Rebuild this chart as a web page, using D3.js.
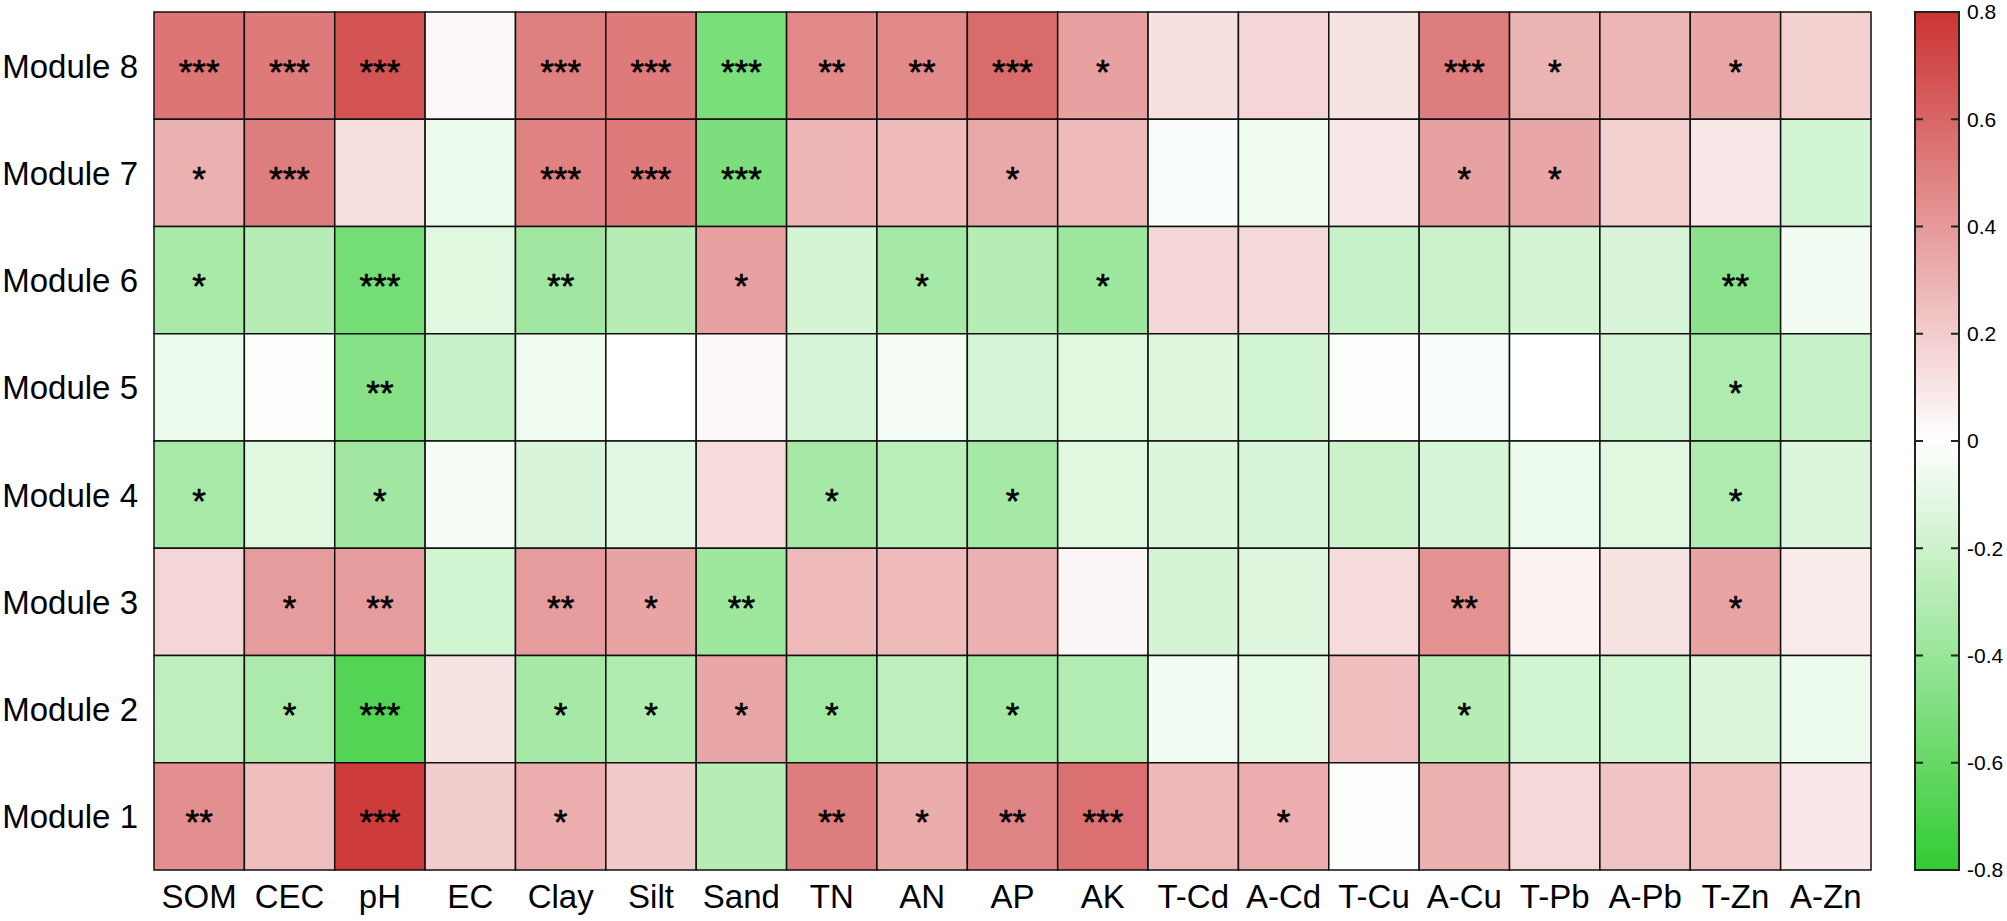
<!DOCTYPE html>
<html>
<head>
<meta charset="utf-8">
<script src="https://cdn.jsdelivr.net/npm/d3@7"></script>
<style>
  body { margin: 0; background: #fff; }
  text { font-family: "Liberation Sans", Arial, sans-serif; fill: #000; }
</style>
</head>
<body>
<div id="chart"></div>
<script>
const width = 2007,
  height = 921,
  margin = { top: 12, left: 154, right: 136, bottom: 51 };

// rows, top to bottom
const modules = ["Module 8", "Module 7", "Module 6", "Module 5", "Module 4", "Module 3", "Module 2", "Module 1"];
const variables = ["SOM", "CEC", "pH", "EC", "Clay", "Silt", "Sand", "TN", "AN", "AP", "AK",
  "T-Cd", "A-Cd", "T-Cu", "A-Cu", "T-Pb", "A-Pb", "T-Zn", "A-Zn"];

// correlation values, one array per module (same order as variables)
const module8 = [0.54, 0.52, 0.67, 0.03, 0.50, 0.52, -0.52, 0.46, 0.46, 0.58, 0.37, 0.12, 0.16, 0.11, 0.51, 0.30, 0.29, 0.35, 0.18];
const module7 = [0.31, 0.51, 0.13, -0.07, 0.49, 0.52, -0.51, 0.29, 0.27, 0.34, 0.27, -0.02, -0.06, 0.09, 0.37, 0.35, 0.18, 0.09, -0.18];
const module6 = [-0.34, -0.29, -0.54, -0.12, -0.37, -0.29, 0.37, -0.17, -0.35, -0.29, -0.38, 0.16, 0.15, -0.22, -0.20, -0.17, -0.15, -0.45, -0.05];
const module5 = [-0.08, -0.01, -0.47, -0.22, -0.06, 0.00, 0.03, -0.16, -0.04, -0.16, -0.12, -0.13, -0.18, -0.01, -0.02, 0.00, -0.16, -0.31, -0.22];
const module4 = [-0.34, -0.12, -0.37, -0.04, -0.15, -0.11, 0.14, -0.35, -0.27, -0.35, -0.12, -0.14, -0.16, -0.20, -0.16, -0.08, -0.12, -0.31, -0.14];
const module3 = [0.16, 0.39, 0.39, -0.18, 0.39, 0.36, -0.38, 0.27, 0.27, 0.31, 0.04, -0.17, -0.13, 0.14, 0.43, 0.05, 0.11, 0.36, 0.08];
const module2 = [-0.25, -0.33, -0.67, 0.11, -0.35, -0.31, 0.35, -0.36, -0.25, -0.36, -0.30, -0.05, -0.10, 0.25, -0.29, -0.18, -0.18, -0.14, -0.07];
const module1 = [0.44, 0.25, 0.77, 0.20, 0.32, 0.21, -0.29, 0.51, 0.33, 0.48, 0.56, 0.28, 0.32, -0.01, 0.31, 0.15, 0.23, 0.25, 0.10];

// significance marks
const sig8 = ["***", "***", "***", "", "***", "***", "***", "**", "**", "***", "*", "", "", "", "***", "*", "", "*", ""];
const sig7 = ["*", "***", "", "", "***", "***", "***", "", "", "*", "", "", "", "", "*", "*", "", "", ""];
const sig6 = ["*", "", "***", "", "**", "", "*", "", "*", "", "*", "", "", "", "", "", "", "**", ""];
const sig5 = ["", "", "**", "", "", "", "", "", "", "", "", "", "", "", "", "", "", "*", ""];
const sig4 = ["*", "", "*", "", "", "", "", "*", "", "*", "", "", "", "", "", "", "", "*", ""];
const sig3 = ["", "*", "**", "", "**", "*", "**", "", "", "", "", "", "", "", "**", "", "", "*", ""];
const sig2 = ["", "*", "***", "", "*", "*", "*", "*", "", "*", "", "", "", "", "*", "", "", "", ""];
const sig1 = ["**", "", "***", "", "*", "", "", "**", "*", "**", "***", "", "*", "", "", "", "", "", ""];

const colorTicks = [0.8, 0.6, 0.4, 0.2, 0, -0.2, -0.4, -0.6, -0.8];

const valueRows = [module8, module7, module6, module5, module4, module3, module2, module1];
const sigRows = [sig8, sig7, sig6, sig5, sig4, sig3, sig2, sig1];

const cells = [];
modules.forEach((m, i) => {
  variables.forEach((v, j) => {
    cells.push({ module: m, variable: v, value: valueRows[i][j], sig: sigRows[i][j] });
  });
});

const svg = d3.select("#chart")
  .append("svg")
  .attr("width", width)
  .attr("height", height);

const plotRight = 1871;
const plotBottom = height - margin.bottom; // 870

const x = d3.scaleBand()
  .domain(variables)
  .range([margin.left, plotRight]);

const y = d3.scaleBand()
  .domain(modules)
  .range([margin.top, plotBottom]);

const color = d3.scaleLinear()
  .domain([-0.8, 0, 0.8])
  .range(["#33cc33", "#ffffff", "#cc3333"])
  .clamp(true);

// cells
svg.append("g")
  .selectAll("rect")
  .data(cells)
  .join("rect")
  .attr("x", d => x(d.variable))
  .attr("y", d => y(d.module))
  .attr("width", x.bandwidth())
  .attr("height", y.bandwidth())
  .attr("fill", d => color(d.value))
  .attr("stroke", "#111")
  .attr("stroke-width", 1.5);

// stars
svg.append("g")
  .selectAll("text")
  .data(cells.filter(d => d.sig))
  .join("text")
  .attr("x", d => x(d.variable) + x.bandwidth() / 2)
  .attr("y", d => y(d.module) + y.bandwidth() / 2 + 18)
  .attr("text-anchor", "middle")
  .style("font-size", "35px")
  .style("stroke", "#000")
  .style("stroke-width", 0.6)
  .text(d => d.sig);

// axis labels
const xAxis = svg.append("g")
  .attr("transform", `translate(0,${plotBottom})`)
  .call(d3.axisBottom(x).tickSize(0).tickPadding(38));
xAxis.select(".domain").remove();
xAxis.selectAll("text")
  .attr("dy", 0)
  .style("font-size", "33px")
  .style("font-family", "Liberation Sans, Arial, sans-serif");

const yAxis = svg.append("g")
  .attr("transform", `translate(${margin.left},0)`)
  .call(d3.axisLeft(y).tickSize(0).tickPadding(16));
yAxis.select(".domain").remove();
yAxis.selectAll("text")
  .attr("dy", "0.36em")
  .style("font-size", "33px")
  .style("font-family", "Liberation Sans, Arial, sans-serif");

// colour bar
const barX = 1915, barW = 44;
const cy = d3.scaleLinear().domain([-0.8, 0.8]).range([plotBottom, margin.top]);

const grad = svg.append("defs").append("linearGradient")
  .attr("id", "cbar")
  .attr("x1", 0).attr("y1", 1).attr("x2", 0).attr("y2", 0);
grad.selectAll("stop")
  .data([-0.8, 0, 0.8])
  .join("stop")
  .attr("offset", d => (d + 0.8) / 1.6)
  .attr("stop-color", d => color(d));

svg.append("rect")
  .attr("x", barX)
  .attr("y", cy(0.8))
  .attr("width", barW)
  .attr("height", cy(-0.8) - cy(0.8))
  .attr("fill", "url(#cbar)")
  .attr("stroke", "#222")
  .attr("stroke-width", 2);

const inner = colorTicks.filter(t => Math.abs(t) < 0.8);
svg.append("g")
  .selectAll("path")
  .data(inner)
  .join("path")
  .attr("d", d => `M${barX},${cy(d)}h8M${barX + barW},${cy(d)}h-8`)
  .attr("stroke", "#222")
  .attr("stroke-width", 2);

svg.append("g")
  .selectAll("text")
  .data(colorTicks)
  .join("text")
  .attr("x", barX + barW + 8)
  .attr("y", d => cy(d))
  .attr("dy", "0.35em")
  .style("font-size", "21px")
  .text(d => String(d));
</script>
</body>
</html>
